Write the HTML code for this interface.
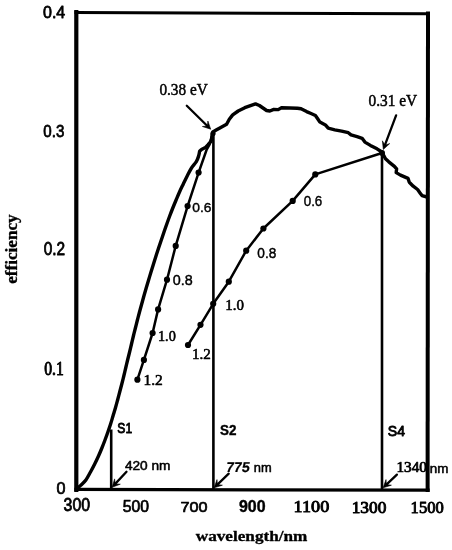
<!DOCTYPE html><html><head><meta charset="utf-8"><style>html,body{margin:0;padding:0;background:#fff}svg{display:block}</style></head><body><svg width="452" height="550" viewBox="0 0 452 550"><rect width="452" height="550" fill="#fff"/><g stroke="#000" fill="none" stroke-linecap="square"><line x1="76.3" y1="12" x2="76.3" y2="490" stroke-width="4.2"/><line x1="76" y1="12.5" x2="428" y2="13.8" stroke-width="3"/><line x1="428" y1="13.5" x2="427.6" y2="490" stroke-width="4"/><line x1="76" y1="489.4" x2="428" y2="490.2" stroke-width="3.3"/></g>
<g stroke="#000" stroke-width="2.6"><line x1="111.2" y1="429.5" x2="111.2" y2="489"/><line x1="213.4" y1="131" x2="213.4" y2="489"/><line x1="382" y1="152" x2="382" y2="489"/></g>
<path d="M77.20,489.20 C77.40,488.88 77.82,487.93 78.40,487.30 C78.98,486.67 79.45,486.62 80.70,485.40 C81.95,484.18 84.27,482.23 85.90,480.00 C87.53,477.77 89.03,474.67 90.50,472.00 C91.97,469.33 93.37,466.67 94.70,464.00 C96.03,461.33 97.30,458.67 98.50,456.00 C99.70,453.33 100.82,450.67 101.90,448.00 C102.98,445.33 104.00,442.67 105.00,440.00 C106.00,437.33 106.97,434.67 107.90,432.00 C108.83,429.33 109.75,426.67 110.60,424.00 C111.45,421.33 112.20,418.67 113.00,416.00 C113.80,413.33 114.63,410.67 115.40,408.00 C116.17,405.33 116.88,402.67 117.60,400.00 C118.32,397.33 119.00,394.67 119.70,392.00 C120.40,389.33 121.12,386.67 121.80,384.00 C122.48,381.33 123.15,378.67 123.80,376.00 C124.45,373.33 125.07,370.67 125.70,368.00 C126.33,365.33 126.95,362.67 127.60,360.00 C128.25,357.33 128.95,354.67 129.60,352.00 C130.25,349.33 130.87,346.67 131.50,344.00 C132.13,341.33 132.75,338.67 133.40,336.00 C134.05,333.33 134.73,330.67 135.40,328.00 C136.07,325.33 136.72,322.67 137.40,320.00 C138.08,317.33 138.78,314.67 139.50,312.00 C140.22,309.33 140.97,306.67 141.70,304.00 C142.43,301.33 143.15,298.67 143.90,296.00 C144.65,293.33 145.42,290.67 146.20,288.00 C146.98,285.33 147.80,282.67 148.60,280.00 C149.40,277.33 150.18,274.67 151.00,272.00 C151.82,269.33 152.67,266.67 153.50,264.00 C154.33,261.33 155.15,258.67 156.00,256.00 C156.85,253.33 157.72,250.67 158.60,248.00 C159.48,245.33 160.40,242.67 161.30,240.00 C162.20,237.33 163.08,234.67 164.00,232.00 C164.92,229.33 165.85,226.67 166.80,224.00 C167.75,221.33 168.70,218.67 169.70,216.00 C170.70,213.33 171.73,210.67 172.80,208.00 C173.87,205.33 174.98,202.67 176.10,200.00 C177.22,197.33 178.30,194.67 179.50,192.00 C180.70,189.33 182.02,186.67 183.30,184.00 C184.58,181.33 185.83,178.67 187.20,176.00 C188.57,173.33 189.98,170.38 191.50,168.00 C193.02,165.62 195.12,163.68 196.30,161.70 C197.48,159.72 198.05,157.83 198.60,156.10 C199.15,154.37 199.43,152.10 199.60,151.30 L201.5,149.5 L205.3,147.6 L208.1,144.7 L210.5,141.9 L211.4,140 L212.8,132 L216.6,129.8 L219.4,128.2 L226.6,124.3 L229.3,119.3 L232.7,114.9 L238.2,111 L244.8,107.7 L250.5,105.6 L255.5,103.9 L259.4,105.5 L266.6,110.5 L269.9,111 L273.8,109.4 L278.2,109.6 L281.5,107.7 L290,108 L297.4,108.2 L301.1,108.8 L306.6,111.6 L311,113.5 L315.4,115.5 L317.5,118.5 L319.9,122.1 L325.4,124.9 L328.2,128.2 L334.8,129.8 L341.6,131.1 L348.3,132.7 L351,134.9 L357.1,136.6 L362.1,138.3 L364.9,142.1 L370.4,145.4 L377,148.8 L381.9,152 L385.5,158.8 L388.8,161.8 L394.4,166.3 L396.6,168.8 L396.2,172.6 L400.5,175.1 L408,178.4 L409.3,182.3 L413.2,186.2 L417.6,189.5 L420.4,193.4 L422,195.6 L427,197" fill="none" stroke="#000" stroke-width="3.4" stroke-linejoin="round" stroke-linecap="round"/>
<polyline points="137.4,379.7 143.9,359.9 152.6,333.0 158.1,309.4 167.0,279.7 175.7,245.9 187.6,206.1 198.6,172.6 206.7,149.5 209.5,144.7 212.5,133.0" fill="none" stroke="#000" stroke-width="2.5" stroke-linejoin="round"/>
<polyline points="188.0,345.0 200.5,324.8 213.2,303.8 228.8,281.7 246.2,250.7 263.4,228.5 292.7,200.9 315.3,174.4 382.0,153.0" fill="none" stroke="#000" stroke-width="2.5" stroke-linejoin="round"/>
<g fill="#000"><circle cx="137.4" cy="379.7" r="3.1"/><circle cx="143.9" cy="359.9" r="3.1"/><circle cx="152.6" cy="333" r="3.1"/><circle cx="158.1" cy="309.4" r="3.1"/><circle cx="167" cy="279.7" r="3.1"/><circle cx="175.7" cy="245.9" r="3.1"/><circle cx="187.6" cy="206.1" r="3.1"/><circle cx="198.6" cy="172.6" r="3.1"/><circle cx="188" cy="345" r="3.1"/><circle cx="200.5" cy="324.8" r="3.1"/><circle cx="213.2" cy="303.8" r="3.1"/><circle cx="228.8" cy="281.7" r="3.1"/><circle cx="246.2" cy="250.7" r="3.1"/><circle cx="263.4" cy="228.5" r="3.1"/><circle cx="292.7" cy="200.9" r="3.1"/><circle cx="315.3" cy="174.4" r="3.1"/></g>
<circle cx="382.1" cy="153" r="2.9"/><circle cx="213" cy="133.5" r="2.6"/>
<line x1="186.8" y1="105.8" x2="207.4" y2="126.0" stroke="#000" stroke-width="2.3" stroke-linecap="round"/><polygon points="210.7,129.2 202.4,126.5 207.4,126.0 207.9,121.0" fill="#000" stroke="#000" stroke-width="0.6" stroke-linejoin="round"/>
<line x1="396.1" y1="115.4" x2="384.9" y2="145.2" stroke="#000" stroke-width="2.3" stroke-linecap="round"/><polygon points="383.3,149.5 382.4,140.8 384.9,145.2 389.7,143.6" fill="#000" stroke="#000" stroke-width="0.6" stroke-linejoin="round"/>
<line x1="126.5" y1="471.8" x2="115.2" y2="483.9" stroke="#000" stroke-width="2.3" stroke-linecap="round"/><polygon points="112.1,487.3 114.6,478.9 115.2,483.9 120.3,484.2" fill="#000" stroke="#000" stroke-width="0.6" stroke-linejoin="round"/>
<line x1="228.7" y1="473.7" x2="217.4" y2="484.6" stroke="#000" stroke-width="2.3" stroke-linecap="round"/><polygon points="214.1,487.8 217.0,479.6 217.4,484.6 222.4,485.2" fill="#000" stroke="#000" stroke-width="0.6" stroke-linejoin="round"/>
<line x1="396.9" y1="474.6" x2="386.4" y2="484.6" stroke="#000" stroke-width="2.3" stroke-linecap="round"/><polygon points="383.1,487.8 386.0,479.6 386.4,484.6 391.4,485.2" fill="#000" stroke="#000" stroke-width="0.6" stroke-linejoin="round"/>
<text transform="translate(42.98 17.60) scale(0.8015 0.8333)" font-family='"Liberation Sans", sans-serif' font-weight="normal" font-size="20" stroke="#000" stroke-width="0.9" font-style="normal" stroke-linejoin="round">0.4</text>
<text transform="translate(43.30 136.69) scale(0.7556 0.8533)" font-family='"Liberation Sans", sans-serif' font-weight="normal" font-size="20" stroke="#000" stroke-width="0.9" font-style="normal" stroke-linejoin="round">0.3</text>
<text transform="translate(43.69 255.17) scale(0.7724 0.8800)" font-family='"Liberation Sans", sans-serif' font-weight="normal" font-size="20" stroke="#000" stroke-width="0.9" font-style="normal" stroke-linejoin="round">0.2</text>
<text transform="translate(44.24 374.67) scale(0.7833 0.9097)" font-family='"Liberation Serif", serif' font-weight="normal" font-size="20" stroke="#000" stroke-width="1.0" font-style="normal" stroke-linejoin="round">0.1</text>
<text transform="translate(56.48 494.30) scale(0.8077 0.8267)" font-family='"Liberation Sans", sans-serif' font-weight="normal" font-size="20" stroke="#000" stroke-width="0.9" font-style="normal" stroke-linejoin="round">0</text>
<text transform="translate(63.58 511.47) scale(0.7945 0.8800)" font-family='"Liberation Sans", sans-serif' font-weight="normal" font-size="20" stroke="#000" stroke-width="0.9" font-style="normal" stroke-linejoin="round">300</text>
<text transform="translate(122.69 511.52) scale(0.7853 0.8000)" font-family='"Liberation Sans", sans-serif' font-weight="normal" font-size="20" stroke="#000" stroke-width="0.9" font-style="normal" stroke-linejoin="round">500</text>
<text transform="translate(180.41 511.94) scale(0.8117 0.7733)" font-family='"Liberation Sans", sans-serif' font-weight="normal" font-size="20" stroke="#000" stroke-width="0.9" font-style="normal" stroke-linejoin="round">700</text>
<text transform="translate(238.98 512.07) scale(0.7994 0.8219)" font-family='"Liberation Sans", sans-serif' font-weight="bold" font-size="20" stroke="#000" stroke-width="0.5" font-style="normal" stroke-linejoin="round">900</text>
<text transform="translate(293.51 512.46) scale(0.9101 0.7945)" font-family='"Liberation Serif", serif' font-weight="normal" font-size="20" stroke="#000" stroke-width="1.1" font-style="normal" stroke-linejoin="round">1100</text>
<text transform="translate(351.66 512.94) scale(0.8679 0.8288)" font-family='"Liberation Serif", serif' font-weight="normal" font-size="20" stroke="#000" stroke-width="1.1" font-style="normal" stroke-linejoin="round">1300</text>
<text transform="translate(410.61 512.96) scale(0.8290 0.7945)" font-family='"Liberation Serif", serif' font-weight="normal" font-size="20" stroke="#000" stroke-width="1.1" font-style="normal" stroke-linejoin="round">1500</text>
<text transform="translate(17.10 283.74) rotate(-90) scale(0.8561 0.7957)" font-family='"Liberation Serif", serif' font-weight="bold" font-size="20" stroke="#000" stroke-width="0.4" font-style="normal" stroke-linejoin="round">efficiency</text>
<text transform="translate(195.77 540.88) scale(0.8592 0.7772)" font-family='"Liberation Serif", serif' font-weight="bold" font-size="20" stroke="#000" stroke-width="0.4" font-style="normal" stroke-linejoin="round">wavelength/nm</text>
<text transform="translate(159.39 95.42) scale(0.7651 0.7929)" font-family='"Liberation Serif", serif' font-weight="normal" font-size="20" stroke="#000" stroke-width="0.6" font-style="normal" stroke-linejoin="round">0.38 eV</text>
<text transform="translate(368.49 106.20) scale(0.7698 0.8357)" font-family='"Liberation Serif", serif' font-weight="normal" font-size="20" stroke="#000" stroke-width="0.6" font-style="normal" stroke-linejoin="round">0.31 eV</text>
<text transform="translate(117.36 433.11) scale(0.6059 0.7338)" font-family='"Liberation Sans", sans-serif' font-weight="normal" font-size="20" stroke="#000" stroke-width="1.2" font-style="normal" stroke-linejoin="round">S1</text>
<text transform="translate(220.03 434.60) scale(0.6737 0.7397)" font-family='"Liberation Sans", sans-serif' font-weight="bold" font-size="20" stroke="#000" stroke-width="0.5" font-style="normal" stroke-linejoin="round">S2</text>
<text transform="translate(387.82 435.71) scale(0.7000 0.7338)" font-family='"Liberation Sans", sans-serif' font-weight="normal" font-size="20" stroke="#000" stroke-width="1.2" font-style="normal" stroke-linejoin="round">S4</text>
<text transform="translate(124.90 470.42) scale(0.6839 0.6333)" font-family='"Liberation Sans", sans-serif' font-weight="normal" font-size="20" stroke="#000" stroke-width="0.8" font-style="normal" stroke-linejoin="round">420 nm</text>
<text transform="translate(225.45 472.02) scale(0.7107 0.7042) skewX(-9)" font-family='"Liberation Sans", sans-serif' font-weight="bold" font-size="20" stroke="#000" stroke-width="0.3" font-style="normal" stroke-linejoin="round">775</text>
<text transform="translate(253.86 472.06) scale(0.6434 0.5948)" font-family='"Liberation Sans", sans-serif' font-weight="normal" font-size="20" stroke="#000" stroke-width="0.8" font-style="normal" stroke-linejoin="round">nm</text>
<text transform="translate(396.38 472.35) scale(0.7642 0.6875)" font-family='"Liberation Serif", serif' font-weight="normal" font-size="20" stroke="#000" stroke-width="1.0" font-style="normal" stroke-linejoin="round">1340</text>
<text transform="translate(429.83 472.66) scale(0.6705 0.6034)" font-family='"Liberation Sans", sans-serif' font-weight="normal" font-size="20" stroke="#000" stroke-width="0.8" font-style="normal" stroke-linejoin="round">nm</text>
<text transform="translate(192.32 211.64) scale(0.6903 0.6575)" font-family='"Liberation Sans", sans-serif' font-weight="normal" font-size="20" stroke="#000" stroke-width="0.6" font-style="normal" stroke-linejoin="round">0.6</text>
<text transform="translate(172.71 284.61) scale(0.7164 0.7192)" font-family='"Liberation Sans", sans-serif' font-weight="normal" font-size="20" stroke="#000" stroke-width="0.6" font-style="normal" stroke-linejoin="round">0.8</text>
<text transform="translate(158.00 340.73) scale(0.7112 0.7153)" font-family='"Liberation Serif", serif' font-weight="normal" font-size="20" stroke="#000" stroke-width="0.8" font-style="normal" stroke-linejoin="round">1.0</text>
<text transform="translate(143.52 384.86) scale(0.7719 0.7254)" font-family='"Liberation Serif", serif' font-weight="normal" font-size="20" stroke="#000" stroke-width="0.8" font-style="normal" stroke-linejoin="round">1.2</text>
<text transform="translate(303.73 206.02) scale(0.6679 0.7055)" font-family='"Liberation Sans", sans-serif' font-weight="normal" font-size="20" stroke="#000" stroke-width="0.6" font-style="normal" stroke-linejoin="round">0.6</text>
<text transform="translate(257.33 257.61) scale(0.6828 0.7260)" font-family='"Liberation Sans", sans-serif' font-weight="normal" font-size="20" stroke="#000" stroke-width="0.6" font-style="normal" stroke-linejoin="round">0.8</text>
<text transform="translate(225.26 310.35) scale(0.7457 0.6875)" font-family='"Liberation Serif", serif' font-weight="normal" font-size="20" stroke="#000" stroke-width="0.8" font-style="normal" stroke-linejoin="round">1.0</text>
<text transform="translate(191.94 358.85) scale(0.7544 0.7535)" font-family='"Liberation Serif", serif' font-weight="normal" font-size="20" stroke="#000" stroke-width="0.8" font-style="normal" stroke-linejoin="round">1.2</text></svg></body></html>
